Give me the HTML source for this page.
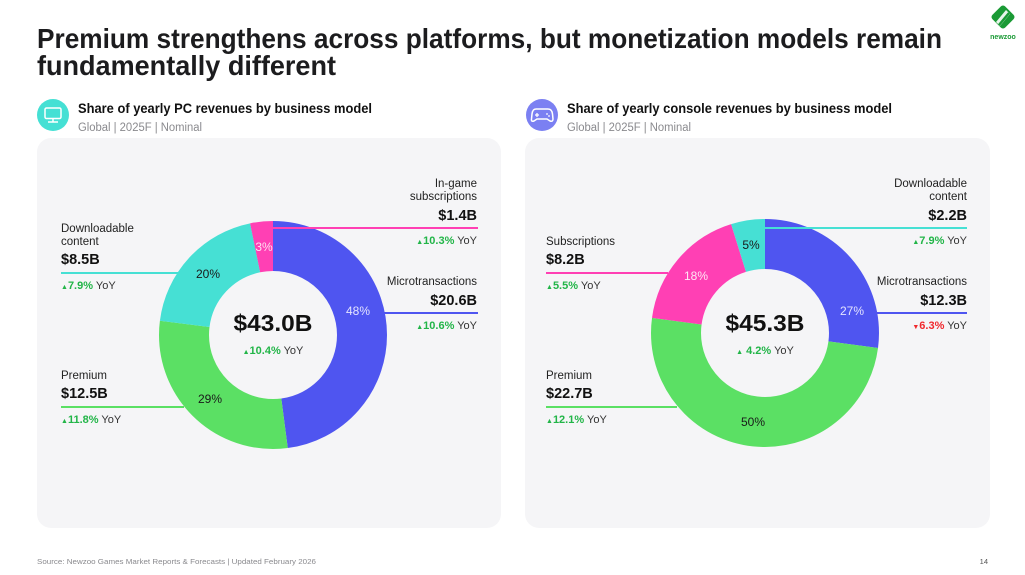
<!DOCTYPE html>
<html><head><meta charset="utf-8"><style>
html,body{margin:0;padding:0;background:#fff;width:1025px;height:575px;overflow:hidden}
svg{display:block}
text{font-family:"Liberation Sans",sans-serif}
.lab{font-size:11.5px;fill:#222}
.val{font-size:14.5px;font-weight:bold;fill:#111}
.yoy{font-size:11px;fill:#333}
.g{fill:#22b548;font-weight:bold}
.r{fill:#f0282d;font-weight:bold}
.tri{font-size:7px}
.pct{font-size:12px;text-anchor:middle}
</style></head><body>
<svg width="1025" height="575" viewBox="0 0 1025 575" xmlns="http://www.w3.org/2000/svg">
<rect width="1025" height="575" fill="#fff"/>
<!-- Title -->
<text x="37" y="48" font-size="28" font-weight="bold" fill="#1c1c1e" textLength="905" lengthAdjust="spacingAndGlyphs">Premium strengthens across platforms, but monetization models remain</text>
<text x="37" y="75" font-size="28" font-weight="bold" fill="#1c1c1e" textLength="299" lengthAdjust="spacingAndGlyphs">fundamentally different</text>

<!-- Logo -->
<g transform="translate(1003,17)">
<rect x="-9" y="-9" width="18" height="18" rx="3" transform="rotate(45)" fill="#1a9a35"/>
<path d="M-7 5 L3 -7 L7 -3 L-3 9 Z" fill="#fff" opacity="0.9"/>
<path d="M-4 8 L6 -4" stroke="#1a9a35" stroke-width="2.5"/>
</g>
<text x="1003" y="39" font-size="7" font-weight="bold" fill="#1a9a35" text-anchor="middle">newzoo</text>

<!-- Subtitles -->
<circle cx="53" cy="115" r="16" fill="#45e0d4"/>
<rect x="45" y="108" width="16" height="10.5" rx="1.5" fill="none" stroke="#fff" stroke-width="1.5"/>
<path d="M48 122 H58 M53 118.5 V122" stroke="#fff" stroke-width="1.5"/>
<text x="78" y="113" font-size="14" font-weight="bold" fill="#111" textLength="294" lengthAdjust="spacingAndGlyphs">Share of yearly PC revenues by business model</text>
<text x="78" y="131" font-size="11.5" fill="#8a8a8e" textLength="124" lengthAdjust="spacingAndGlyphs">Global | 2025F | Nominal</text>

<circle cx="542" cy="115" r="16" fill="#7b80f2"/>
<path d="M536 109 H548 Q552 109 552.5 114 L553 119 Q553 122 550 121 L547 119 H537 L534 121 Q531 122 531.5 119 L532 114 Q532.5 109 536 109 Z" fill="none" stroke="#fff" stroke-width="1.5"/>
<path d="M535 115 H539 M537 113 V117" stroke="#fff" stroke-width="1.3"/>
<circle cx="547" cy="114" r="0.9" fill="#fff"/><circle cx="549" cy="116" r="0.9" fill="#fff"/>
<text x="567" y="113" font-size="14" font-weight="bold" fill="#111" textLength="325" lengthAdjust="spacingAndGlyphs">Share of yearly console revenues by business model</text>
<text x="567" y="131" font-size="11.5" fill="#8a8a8e" textLength="124" lengthAdjust="spacingAndGlyphs">Global | 2025F | Nominal</text>

<!-- Cards -->
<rect x="37" y="138" width="464" height="390" rx="14" fill="#f5f5f7"/>
<rect x="525" y="138" width="465" height="390" rx="14" fill="#f5f5f7"/>

<!-- PC donut -->
<g transform="rotate(-90 273 335)" fill="none" stroke-width="50">
<circle cx="273" cy="335" r="89" stroke="#4f55f0" stroke-dasharray="267.90 600" stroke-dashoffset="0"/>
<circle cx="273" cy="335" r="89" stroke="#5be064" stroke-dasharray="162.56 600" stroke-dashoffset="-267.90"/>
<circle cx="273" cy="335" r="89" stroke="#46e0d4" stroke-dasharray="110.54 600" stroke-dashoffset="-430.46"/>
<circle cx="273" cy="335" r="89" stroke="#ff40b4" stroke-dasharray="18.3 600" stroke-dashoffset="-540.95"/>
</g>
<text class="pct" x="358" y="315" fill="#e4e4ff">48%</text>
<text class="pct" x="210" y="403" fill="#1a1a1a">29%</text>
<text class="pct" x="208" y="278" fill="#1a1a1a">20%</text>
<text class="pct" x="264" y="251" fill="#ffe0f2">3%</text>
<text x="273" y="331" font-size="23" font-weight="bold" fill="#111" text-anchor="middle" textLength="79" lengthAdjust="spacingAndGlyphs">$43.0B</text>
<text x="273" y="354" class="yoy" text-anchor="middle" font-size="11.5"><tspan class="g tri">▲</tspan><tspan class="g">10.4%</tspan> YoY</text>

<!-- PC lines -->
<line x1="273" y1="228" x2="478" y2="228" stroke="#ff40b4" stroke-width="2"/>
<line x1="61" y1="273" x2="179" y2="273" stroke="#46e0d4" stroke-width="2"/>
<line x1="384" y1="313" x2="478" y2="313" stroke="#4f55f0" stroke-width="2"/>
<line x1="61" y1="407" x2="184" y2="407" stroke="#5be064" stroke-width="2"/>

<!-- PC labels -->
<g text-anchor="end">
<text class="lab" x="477" y="187">In-game</text>
<text class="lab" x="477" y="200">subscriptions</text>
<text class="val" x="477" y="220">$1.4B</text>
<text class="yoy" x="477" y="244"><tspan class="g tri">▲</tspan><tspan class="g">10.3%</tspan> YoY</text>
<text class="lab" x="477" y="285">Microtransactions</text>
<text class="val" x="477" y="305">$20.6B</text>
<text class="yoy" x="477" y="329"><tspan class="g tri">▲</tspan><tspan class="g">10.6%</tspan> YoY</text>
</g>
<text class="lab" x="61" y="232">Downloadable</text>
<text class="lab" x="61" y="245">content</text>
<text class="val" x="61" y="264">$8.5B</text>
<text class="yoy" x="61" y="289"><tspan class="g tri">▲</tspan><tspan class="g">7.9%</tspan> YoY</text>
<text class="lab" x="61" y="379">Premium</text>
<text class="val" x="61" y="398">$12.5B</text>
<text class="yoy" x="61" y="423"><tspan class="g tri">▲</tspan><tspan class="g">11.8%</tspan> YoY</text>

<!-- Console donut -->
<g transform="rotate(-90 765 333)" fill="none" stroke-width="50">
<circle cx="765" cy="333" r="89" stroke="#4f55f0" stroke-dasharray="151.51 600" stroke-dashoffset="0"/>
<circle cx="765" cy="333" r="89" stroke="#5be064" stroke-dasharray="279.60 600" stroke-dashoffset="-151.51"/>
<circle cx="765" cy="333" r="89" stroke="#ff40b4" stroke-dasharray="101.00 600" stroke-dashoffset="-431.11"/>
<circle cx="765" cy="333" r="89" stroke="#46e0d4" stroke-dasharray="27.2 600" stroke-dashoffset="-532.11"/>
</g>
<text class="pct" x="852" y="315" fill="#e4e4ff">27%</text>
<text class="pct" x="753" y="426" fill="#1a1a1a">50%</text>
<text class="pct" x="696" y="280" fill="#ffe6f4">18%</text>
<text class="pct" x="751" y="249" fill="#1a1a1a">5%</text>
<text x="765" y="331" font-size="23" font-weight="bold" fill="#111" text-anchor="middle" textLength="79" lengthAdjust="spacingAndGlyphs">$45.3B</text>
<text x="765" y="354" class="yoy" text-anchor="middle" font-size="11.5"><tspan class="g tri">▲</tspan><tspan class="g"> 4.2%</tspan> YoY</text>

<!-- Console lines -->
<line x1="765" y1="228" x2="967" y2="228" stroke="#46e0d4" stroke-width="2"/>
<line x1="546" y1="273" x2="668" y2="273" stroke="#ff40b4" stroke-width="2"/>
<line x1="877" y1="313" x2="967" y2="313" stroke="#4f55f0" stroke-width="2"/>
<line x1="546" y1="407" x2="677" y2="407" stroke="#5be064" stroke-width="2"/>

<!-- Console labels -->
<g text-anchor="end">
<text class="lab" x="967" y="187">Downloadable</text>
<text class="lab" x="967" y="200">content</text>
<text class="val" x="967" y="220">$2.2B</text>
<text class="yoy" x="967" y="244"><tspan class="g tri">▲</tspan><tspan class="g">7.9%</tspan> YoY</text>
<text class="lab" x="967" y="285">Microtransactions</text>
<text class="val" x="967" y="305">$12.3B</text>
<text class="yoy" x="967" y="329"><tspan class="r tri">▼</tspan><tspan class="r">6.3%</tspan> YoY</text>
</g>
<text class="lab" x="546" y="245">Subscriptions</text>
<text class="val" x="546" y="264">$8.2B</text>
<text class="yoy" x="546" y="289"><tspan class="g tri">▲</tspan><tspan class="g">5.5%</tspan> YoY</text>
<text class="lab" x="546" y="379">Premium</text>
<text class="val" x="546" y="398">$22.7B</text>
<text class="yoy" x="546" y="423"><tspan class="g tri">▲</tspan><tspan class="g">12.1%</tspan> YoY</text>

<!-- Footer -->
<text x="37" y="564" font-size="7.5" fill="#8a8a8e" textLength="279" lengthAdjust="spacingAndGlyphs">Source: Newzoo Games Market Reports &amp; Forecasts | Updated February 2026</text>
<text x="988" y="564" font-size="7.5" fill="#555" text-anchor="end">14</text>
</svg>
</body></html>
